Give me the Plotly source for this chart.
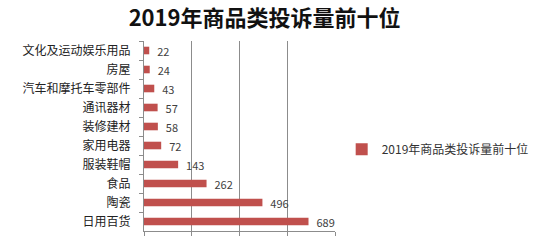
import plotly.graph_objects as go

categories = ["文化及运动娱乐用品", "房屋", "汽车和摩托车零部件", "通讯器材", "装修建材",
              "家用电器", "服装鞋帽", "食品", "陶瓷", "日用百货"]
values = [22, 24, 43, 57, 58, 72, 143, 262, 496, 689]
series_name = "2019年商品类投诉量前十位"
title_text = "2019年商品类投诉量前十位"

FONT = "Noto Sans CJK SC"
RED = "#C0504D"

fig = go.Figure(go.Bar(
    y=categories, x=values, orientation="h",
    name=series_name,
    marker=dict(color=RED, line=dict(width=0)),
    text=values, texttemplate="  %{x}", textposition="outside",
    constraintext="none",
    textfont=dict(family=FONT, size=11, color="#404040"),
    cliponaxis=False,
    showlegend=True,
))

fig.update_layout(
    width=540, height=241,
    margin=dict(l=144, r=205, t=41, b=10, autoexpand=False),
    paper_bgcolor="white", plot_bgcolor="white",
    bargap=0.6,
    title=dict(text="<b>" + title_text + "</b>", x=0.49, xanchor="center",
               y=0.925, yanchor="middle",
               font=dict(family=FONT, size=22, color="#111111")),
    legend=dict(x=1.035, xanchor="left", y=0.43, yanchor="middle",
                font=dict(family=FONT, size=12, color="#333333"),
                itemwidth=30, bgcolor="rgba(0,0,0,0)"),
    font=dict(family=FONT, size=12, color="#333333"),
)

fig.update_xaxes(range=[0, 800], dtick=200, showgrid=True, gridcolor="#8C8C8C",
                 gridwidth=1, showline=True, linecolor="#8C8C8C", ticks="outside",
                 ticklen=4, tickcolor="#8C8C8C", showticklabels=False, zeroline=False)
fig.update_yaxes(autorange="reversed", showline=True, linecolor="#8C8C8C",
                 ticks="outside", ticklen=4, tickcolor="#8C8C8C",
                 tickson="boundaries", automargin=False, ticklabelstandoff=10,
                 tickfont=dict(family=FONT, size=12, color="#222222"))

fig.write_html("out.html")
